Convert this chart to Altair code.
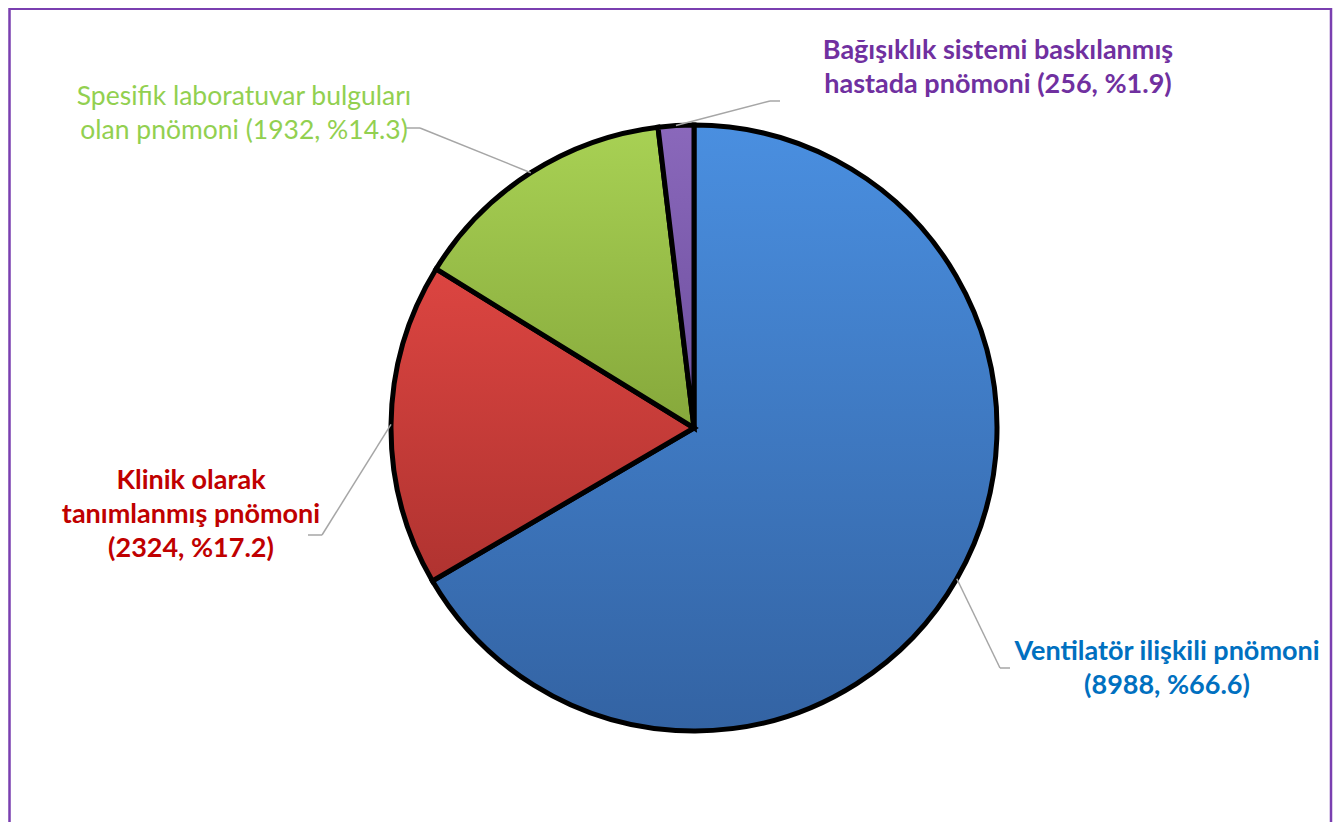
import math
import altair as alt
import pandas as pd

# ---- data ----
categories = [
    "Ventilatör ilişkili pnömoni",
    "Klinik olarak tanımlanmış pnömoni",
    "Spesifik laboratuvar bulguları olan pnömoni",
    "Bağışıklık sistemi baskılanmış hastada pnömoni",
]
counts = [8988, 2324, 1932, 256]
percents = ["66.6", "17.2", "14.3", "1.9"]
label_lines = [
    ["Ventilatör ilişkili pnömoni", "(8988, %66.6)"],
    ["Klinik olarak", "tanımlanmış pnömoni", "(2324, %17.2)"],
    ["Spesifik laboratuvar bulguları", "olan pnömoni (1932, %14.3)"],
    ["Bağışıklık sistemi baskılanmış", "hastada pnömoni (256, %1.9)"],
]

# ---- layout / style (page pixel coordinates) ----
CX, CY, R = 694, 428, 303
label_x = [1167, 191, 244, 998]
label_y = [660, 489, 105, 59]
elbow_x = [1000, 322, 420, 770]
elbow_y = [668, 535, 128, 101]
end_x = [1010, 308, 405, 780]
end_y = [668, 535, 128, 101]
text_colors = ["#0070c0", "#c00000", "#92d050", "#7030a0"]
text_bold = ["bold", "bold", "normal", "bold"]
text_size = [27, 27, 26.5, 27]
slice_grad = [
    ("#4a8fe0", "#3363a3"),
    ("#dc4541", "#b03330"),
    ("#a8d154", "#86a83b"),
    ("#8a68bb", "#6c4e9d"),
]

df = pd.DataFrame({
    "cat": categories,
    "value": counts,
    "pct": percents,
    "order": list(range(len(categories))),
    "label": ["\n".join(l) for l in label_lines],
    "lx": label_x, "ly": label_y,
    "ex": elbow_x, "ey": elbow_y,
    "fx": end_x, "fy": end_y,
})

W, H = 1325, 814
xs = alt.Scale(domain=[8, 8 + W], range=[0, W], nice=False, zero=False)
ys = alt.Scale(domain=[8, 8 + H], range=[0, H], nice=False, zero=False)

base = alt.Chart(df).transform_joinaggregate(
    total="sum(value)"
).transform_window(
    cum="sum(value)", sort=[alt.SortField("order")], frame=[None, 0]
).transform_calculate(
    t0="(datum.cum - datum.value) / datum.total * 2 * PI",
    t1="datum.cum / datum.total * 2 * PI",
).transform_calculate(
    tm="(datum.t0 + datum.t1) / 2",
).transform_calculate(
    sx=f"{CX} + {R} * sin(datum.tm)",
    sy=f"{CY} - {R} * cos(datum.tm)",
)

layers = []

# frame
frame_df = pd.DataFrame({"a": [0]})
border = alt.Chart(frame_df).mark_rect(fill="white", stroke="#7a3fb0", strokeWidth=2.5).encode(
    x=alt.X(datum=9.5, type="quantitative", scale=xs, axis=None),
    x2=alt.X2(datum=1331),
    y=alt.Y(datum=8.8, type="quantitative", scale=ys, axis=None),
    y2=alt.Y2(datum=845),
)
layers.append(border)

# slices
for i, c in enumerate(categories):
    top, bot = slice_grad[i]
    grad = alt.Gradient(
        gradient="linear",
        stops=[alt.GradientStop(color=top, offset=0), alt.GradientStop(color=bot, offset=1)],
        x1=0, x2=0, y1=0, y2=1,
    )
    layers.append(
        base.transform_filter(alt.datum.order == i).mark_arc(
            radius=R, fill=grad, stroke="black", strokeWidth=5, strokeJoin="miter"
        ).encode(
            theta=alt.Theta("t0:Q", scale=None),
            theta2="t1:Q",
            x=alt.X(datum=CX, type="quantitative", scale=xs, axis=None),
            y=alt.Y(datum=CY, type="quantitative", scale=ys, axis=None),
        )
    )

# leader lines
layers.append(
    base.mark_rule(color="#a6a6a6", strokeWidth=1.5).encode(
        x=alt.X("sx:Q", scale=xs, axis=None), y=alt.Y("sy:Q", scale=ys, axis=None),
        x2="ex:Q", y2="ey:Q",
    )
)
layers.append(
    base.mark_rule(color="#a6a6a6", strokeWidth=1.5).encode(
        x=alt.X("ex:Q", scale=xs, axis=None), y=alt.Y("ey:Q", scale=ys, axis=None),
        x2="fx:Q", y2="fy:Q",
    )
)

# labels
for i, c in enumerate(categories):
    layers.append(
        alt.Chart(df).transform_filter(alt.datum.order == i).mark_text(
            font="Lato", fontSize=text_size[i], fontWeight=text_bold[i],
            color=text_colors[i], align="center", baseline="alphabetic",
            lineBreak="\n", lineHeight=34,
        ).encode(
            x=alt.X("lx:Q", scale=xs, axis=None),
            y=alt.Y("ly:Q", scale=ys, axis=None),
            text="label:N",
        )
    )

chart = alt.layer(*layers).properties(
    width=W, height=H, padding=0,
    autosize=alt.AutoSizeParams(type="none"),
).configure_view(stroke=None)

chart.save("out.html", embed_options={"renderer": "svg", "actions": False})
